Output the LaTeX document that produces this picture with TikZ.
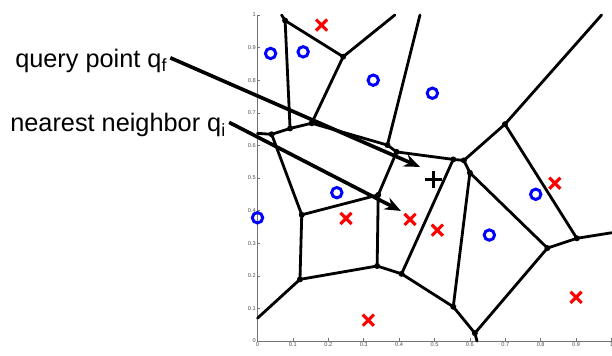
\documentclass[tikz,border=0pt]{standalone}
\usepackage{fontspec}
\setmainfont{Liberation Sans}
\usepackage{tikz}
\usetikzlibrary{shapes,arrows.meta,positioning,calc}

\begin{document}
\begin{tikzpicture}[
  x=8.85cm, y=8.15cm,
  edge/.style={line width=2pt, line cap=round},
  opt/.style={circle, draw=blue, line width=2.1pt, inner sep=0pt, minimum size=0.26cm},
  xpt/.style={cross out, draw=red, line width=2.2pt, inner sep=0pt, minimum size=0.2cm},
  qpt/.style={cross out, rotate=45, draw=black, line width=1.8pt, inner sep=0pt, minimum size=0.24cm},
  lbl/.style={font=\fontsize{18}{20}\selectfont, inner sep=0pt},
  arrow/.style={-{Stealth[length=0.4cm, width=0.32cm]}, line width=2.6pt},
  ticklbl/.style={font=\fontsize{4}{5}\selectfont, text=black!70, inner sep=1pt}
]
\useasboundingbox (-0.7274,-0.046) rectangle (1.0014,1.046);

% axes
\draw[black!55, line width=0.4pt] (0,1) -- (0,0) -- (1,0);
\foreach \t [count=\i] in {0,0.1,0.2,0.3,0.4,0.5,0.6,0.7,0.8,0.9,1} {
  \draw[black!55, line width=0.4pt] (0,\t) -- ++(0.07cm,0);
  \draw[black!55, line width=0.4pt] (\t,0) -- ++(0,0.07cm);
  \node[ticklbl, anchor=east] (ty\i) at (0,\t) {\t};
  \node[ticklbl, anchor=north] (tx\i) at (\t,0) {\t};
}

% voronoi vertices
\coordinate (v1) at (0.078,0.983);
\coordinate (v2) at (0.242,0.872);
\coordinate (v3) at (0.153,0.668);
\coordinate (v4) at (0.092,0.652);
\coordinate (v5) at (0.040,0.634);
\coordinate (v6) at (0.125,0.387);
\coordinate (v7) at (0.341,0.448);
\coordinate (v8) at (0.338,0.230);
\coordinate (v9) at (0.120,0.189);
\coordinate (v10) at (0.407,0.206);
\coordinate (v11) at (0.553,0.105);
\coordinate (v12) at (0.614,0.024);
\coordinate (v13) at (0.819,0.285);
\coordinate (v14) at (0.902,0.315);
\coordinate (v15) at (0.699,0.665);
\coordinate (v16) at (0.583,0.554);
\coordinate (v17) at (0.553,0.557);
\coordinate (v18) at (0.600,0.516);
\coordinate (v19) at (0.367,0.601);
\coordinate (v20) at (0.393,0.580);
% ends on the frame
\coordinate (b1) at (0.068,1);
\coordinate (b2) at (0.388,1);
\coordinate (b3) at (0.459,1);
\coordinate (b4) at (0.972,1);
\coordinate (b5) at (1,0.332);
\coordinate (b6) at (0.620,0);
\coordinate (b7) at (0,0.070);
\coordinate (b8) at (0,0.637);

% voronoi edges
\draw[edge] (b1) -- (v1);
\draw[edge] (v1) -- (v2);
\draw[edge] (v2) -- (b2);
\draw[edge] (v1) -- (v4);
\draw[edge] (v2) -- (v3);
\draw[edge] (v3) -- (v4);
\draw[edge] (v4) -- (v5);
\draw[edge] (v5) -- (b8);
\draw[edge] (v5) -- (v6);
\draw[edge] (v6) -- (v7);
\draw[edge] (v6) -- (v9);
\draw[edge] (v9) -- (b7);
\draw[edge] (v9) -- (v8);
\draw[edge] (v7) -- (v8);
\draw[edge] (v8) -- (v10);
\draw[edge] (v10) -- (v17);
\draw[edge] (v10) -- (v11);
\draw[edge] (v11) -- (v12);
\draw[edge] (v12) -- (b6);
\draw[edge] (v12) -- (v13);
\draw[edge] (v13) -- (v14);
\draw[edge] (v14) -- (b5);
\draw[edge] (v14) -- (v15);
\draw[edge] (v15) -- (b4);
\draw[edge] (v15) -- (v16);
\draw[edge] (v16) -- (v17);
\draw[edge] (v16) -- (v18);
\draw[edge] (v18) -- (v13);
\draw[edge] (v18) -- (v11);
\draw[edge] (v17) -- (v20);
\draw[edge] (v20) -- (v19);
\draw[edge] (v19) -- (b3);
\draw[edge] (v19) -- (v3);
\draw[edge] (v20) -- (v7);
\foreach \v in {v1,v2,v3,v4,v5,v6,v7,v8,v9,v10,v11,v12,v13,v14,v15,v16,v17,v18,v19,v20}
  \fill (\v) circle (0.075cm);

% data points
\node[opt] (o1) at (0.037,0.882) {};
\node[opt] (o2) at (0.129,0.887) {};
\node[opt] (o3) at (0.327,0.800) {};
\node[opt] (o4) at (0.494,0.760) {};
\node[opt] (o5) at (0.224,0.455) {};
\node[opt] (o6) at (0.000,0.378) {};
\node[opt] (o7) at (0.655,0.325) {};
\node[opt] (o8) at (0.786,0.450) {};
\node[xpt] (x1) at (0.181,0.969) {};
\node[xpt] (x2) at (0.250,0.376) {};
\node[xpt] (x3) at (0.431,0.373) {};
\node[xpt] (x4) at (0.508,0.340) {};
\node[xpt] (x5) at (0.840,0.484) {};
\node[xpt] (x6) at (0.900,0.134) {};
\node[xpt] (x7) at (0.313,0.064) {};
\node[qpt] (query) at (0.497,0.496) {};

% labels
\node[lbl, anchor=base west] (qlabel) at (-0.685,0.840) {query point q\textsubscript{f}};
\node[lbl, anchor=base west] (nlabel) at (-0.699,0.642) {nearest neighbor q\textsubscript{i}};
\coordinate (qf) at (0.459,0.534);
\coordinate (qi) at (0.405,0.399);
\draw[arrow] ([xshift=2pt,yshift=2pt]qlabel.east) -- (qf);
\draw[arrow] ([xshift=2pt,yshift=2pt]nlabel.east) -- (qi);
\end{tikzpicture}
\end{document}
